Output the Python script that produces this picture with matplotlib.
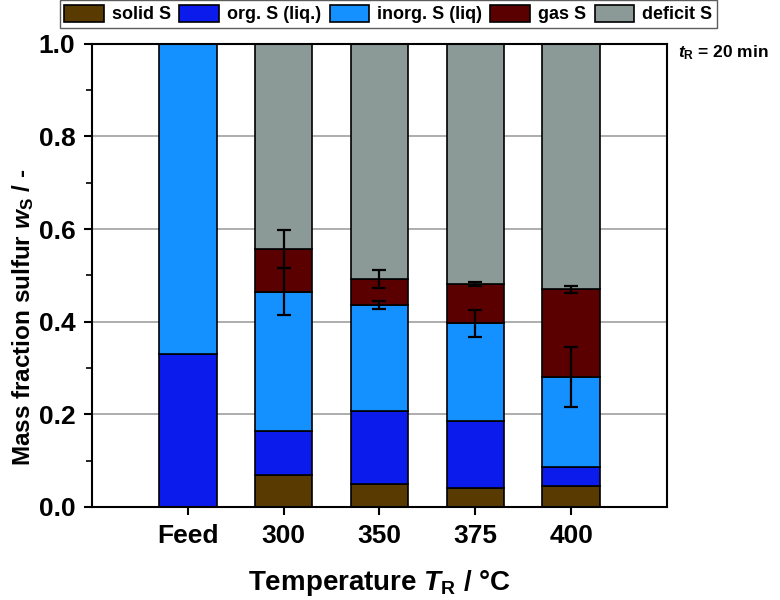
import numpy as np
import matplotlib
matplotlib.use('Agg')
import matplotlib.pyplot as plt

plt.rcParams['font.family'] = ['Liberation Sans', 'DejaVu Sans']
plt.rcParams['font.weight'] = 'bold'
plt.rcParams['mathtext.fontset'] = 'custom'
plt.rcParams['mathtext.it'] = 'Liberation Sans:bold:italic'
plt.rcParams['mathtext.rm'] = 'Liberation Sans:bold'
plt.rcParams['mathtext.bf'] = 'Liberation Sans:bold'

# data
categories = ['Feed', '300', '350', '375', '400']
solid_s = [0.0, 0.070, 0.049, 0.042, 0.046]
org_s = [0.330, 0.094, 0.158, 0.144, 0.041]
inorg_s = [0.670, 0.301, 0.229, 0.211, 0.194]
gas_s = [0.0, 0.092, 0.056, 0.084, 0.189]
deficit_s = [1 - a - b - c - d for a, b, c, d in zip(solid_s, org_s, inorg_s, gas_s)]

# error bars (at top of inorg. S and top of gas S), temperatures only
err_inorg = [0.0, 0.051, 0.009, 0.029, 0.065]
err_gas = [0.0, 0.042, 0.019, 0.004, 0.007]

labels = ['solid S', 'org. S (liq.)', 'inorg. S (liq)', 'gas S', 'deficit S']
colors = ['#593A00', '#0B1BEB', '#1591FF', '#5A0000', '#8B9A97']

fig = plt.figure(figsize=(7.8, 6.0), dpi=100)
ax = fig.add_axes([0.118, 0.155, 0.737, 0.772])

x = np.arange(len(categories))
series = [solid_s, org_s, inorg_s, gas_s, deficit_s]
bottom = np.zeros(len(categories))
handles = []
for vals, col, lab in zip(series, colors, labels):
    b = ax.bar(x, vals, 0.6, bottom=bottom, color=col, edgecolor='black',
               linewidth=1.2, label=lab, zorder=2)
    handles.append(b)
    bottom = bottom + np.array(vals)

top_inorg = np.array(solid_s) + np.array(org_s) + np.array(inorg_s)
top_gas = top_inorg + np.array(gas_s)
ax.errorbar(x[1:], top_inorg[1:], yerr=err_inorg[1:], fmt='none', ecolor='black',
            elinewidth=1.6, capsize=5, capthick=1.6, zorder=3)
ax.errorbar(x[1:], top_gas[1:], yerr=err_gas[1:], fmt='none', ecolor='black',
            elinewidth=1.6, capsize=5, capthick=1.6, zorder=3)

ax.set_xlim(-1, 5)
ax.set_ylim(0, 1.0)
ax.set_xticks(x)
ax.set_xticklabels(categories, fontsize=19, fontweight='bold')
ax.set_yticks(np.arange(0, 1.01, 0.2))
ax.set_yticks(np.arange(0.1, 1.0, 0.2), minor=True)
ax.set_yticklabels(['%.1f' % v for v in np.arange(0, 1.01, 0.2)], fontsize=19, fontweight='bold')
ax.tick_params(axis='both', which='major', direction='out', length=6, width=1.5, pad=6)
ax.tick_params(axis='y', which='minor', direction='out', length=4, width=1.2)
ax.grid(axis='y', color='#a0a0a0', linewidth=1.2, zorder=0)
ax.set_axisbelow(True)
for s in ax.spines.values():
    s.set_linewidth(1.5)

ax.set_xlabel(r'Temperature $T_\mathrm{R}$ / °C', fontsize=20, fontweight='bold', labelpad=15)
ax.set_ylabel(r'Mass fraction sulfur $w_\mathrm{S}$ / -', fontsize=17.5, fontweight='bold')
ax.yaxis.set_label_coords(-0.098, 0.41)

fig.text(0.869, 0.905, r'$t_\mathrm{R}$ = 20 min', fontsize=12.5, fontweight='bold')

leg = fig.legend(handles=handles, loc='upper center', bbox_to_anchor=(0.498, 1.0),
                 ncol=5, fontsize=13, frameon=True, fancybox=False, edgecolor='#333333',
                 handlelength=2.2, handleheight=1.1, handletextpad=0.45, columnspacing=0.45,
                 borderpad=0.25, borderaxespad=0.0)
leg.get_frame().set_linewidth(1.0)

fig.savefig('out.png', dpi=100)
